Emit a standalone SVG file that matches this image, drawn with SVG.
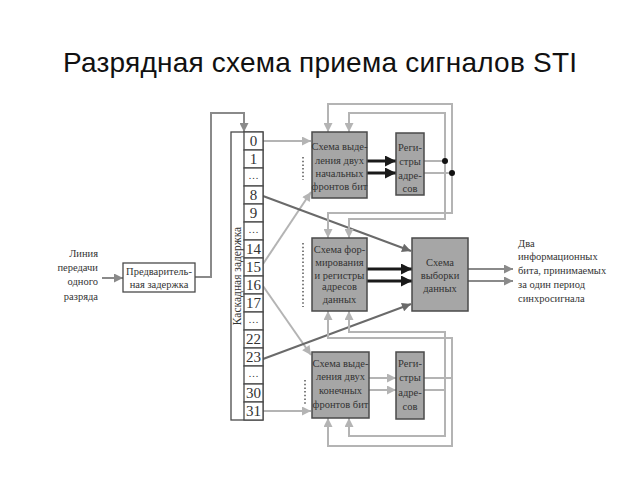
<svg xmlns="http://www.w3.org/2000/svg" width="640" height="480" viewBox="0 0 640 480">
<style>
.title{font-family:"Liberation Sans",Arial,sans-serif;font-size:28px;fill:#111;text-anchor:middle}
.t{font-family:"Liberation Serif","Times New Roman",serif;font-size:10.5px;fill:#333;text-anchor:middle}
.tl{font-family:"Liberation Serif","Times New Roman",serif;font-size:10.5px;fill:#333}
.tr{font-family:"Liberation Serif","Times New Roman",serif;font-size:10.5px;fill:#333;text-anchor:end}
.n{font-family:"Liberation Serif","Times New Roman",serif;font-size:15px;fill:#333;text-anchor:middle}
.box{fill:#a6a6a6;stroke:#4a4a4a;stroke-width:1.5}
.wbox{fill:#fff;stroke:#4a4a4a;stroke-width:1.3}
.lg{fill:none;stroke:#b4b4b4;stroke-width:2}
.md{fill:none;stroke:#8a8a8a;stroke-width:2}
.dk{fill:none;stroke:#6a6a6a;stroke-width:2}
.bk{fill:none;stroke:#1a1a1a;stroke-width:3}
.dot{fill:none;stroke:#555;stroke-width:1.5;stroke-dasharray:1.5 2.2}
</style>
<defs>
<marker id="ag" viewBox="0 0 10 10" refX="10" refY="5" markerWidth="11" markerHeight="9" markerUnits="userSpaceOnUse" orient="auto"><path d="M0,0L10,5L0,10z" fill="#b4b4b4"/></marker>
<marker id="am" viewBox="0 0 10 10" refX="10" refY="5" markerWidth="11" markerHeight="9" markerUnits="userSpaceOnUse" orient="auto"><path d="M0,0L10,5L0,10z" fill="#8a8a8a"/></marker>
<marker id="ad" viewBox="0 0 10 10" refX="10" refY="5" markerWidth="11" markerHeight="9" markerUnits="userSpaceOnUse" orient="auto"><path d="M0,0L10,5L0,10z" fill="#6a6a6a"/></marker>
<marker id="ab" viewBox="0 0 10 10" refX="10" refY="5" markerWidth="12" markerHeight="11" markerUnits="userSpaceOnUse" orient="auto"><path d="M0,0L10,5L0,10z" fill="#1a1a1a"/></marker>
</defs>
<rect width="640" height="480" fill="#fff"/>
<text class="title" x="320" y="72" textLength="514" lengthAdjust="spacing">Разрядная схема приема сигналов STI</text>

<g id="connectors">
  <line class="md" x1="102" y1="278" x2="123" y2="278" marker-end="url(#am)"/>
  <polyline class="md" points="195,277 211,277 211,113 244,113 244,132" marker-end="url(#am)"/>
  <line class="lg" x1="263" y1="141" x2="311" y2="141" marker-end="url(#ag)"/>
  <line class="lg" x1="263" y1="264" x2="311" y2="192" marker-end="url(#ag)"/>
  <line class="lg" x1="263" y1="286" x2="311" y2="355" marker-end="url(#ag)"/>
  <line class="lg" x1="263" y1="411" x2="311" y2="411" marker-end="url(#ag)"/>
  <line class="dk" x1="263" y1="196" x2="411" y2="251" marker-end="url(#ad)"/>
  <line class="dk" x1="263" y1="359" x2="411" y2="304" marker-end="url(#ad)"/>
  <line class="bk" x1="367" y1="161" x2="396" y2="161" marker-end="url(#ab)"/>
  <line class="bk" x1="367" y1="173" x2="396" y2="173" marker-end="url(#ab)"/>
  <line class="bk" x1="367" y1="269" x2="412" y2="269" marker-end="url(#ab)"/>
  <line class="bk" x1="367" y1="281" x2="412" y2="281" marker-end="url(#ab)"/>
  <line class="lg" x1="369" y1="378" x2="396" y2="378" marker-end="url(#ag)"/>
  <line class="lg" x1="369" y1="390" x2="396" y2="390" marker-end="url(#ag)"/>
  <line class="md" x1="468" y1="269" x2="513" y2="269" marker-end="url(#am)"/>
  <line class="md" x1="468" y1="281" x2="513" y2="281" marker-end="url(#am)"/>
  <line class="lg" x1="424" y1="161" x2="445" y2="161"/>
  <line class="lg" x1="424" y1="173" x2="452" y2="173"/>
  <polyline class="lg" points="452,213 452,104 328,104 328,132" marker-end="url(#ag)"/>
  <polyline class="lg" points="445,219 445,113 349,113 349,132" marker-end="url(#ag)"/>
  <polyline class="lg" points="452,173 452,213 328,213 328,238" marker-end="url(#ag)"/>
  <polyline class="lg" points="445,161 445,219 349,219 349,238" marker-end="url(#ag)"/>
  <circle cx="445" cy="161" r="3" fill="#111"/>
  <circle cx="452" cy="173" r="3" fill="#111"/>
  <line class="lg" x1="424" y1="378" x2="452" y2="378"/>
  <line class="lg" x1="424" y1="390" x2="445" y2="390"/>
  <polyline class="lg" points="452,446 452,338 328,338 328,311" marker-end="url(#ag)"/>
  <polyline class="lg" points="445,436 445,332 349,332 349,311" marker-end="url(#ag)"/>
  <polyline class="lg" points="452,378 452,446 328,446 328,418" marker-end="url(#ag)"/>
  <polyline class="lg" points="445,390 445,436 349,436 349,418" marker-end="url(#ag)"/>
  <line class="dot" x1="303" y1="157" x2="303" y2="180"/>
  <line class="dot" x1="303" y1="243" x2="303" y2="307"/>
  <line class="dot" x1="305" y1="380" x2="305" y2="404"/>
</g>

<g id="input-label">
  <text class="tr" x="98" y="257">Линия</text>
  <text class="tr" x="98" y="271">передачи</text>
  <text class="tr" x="98" y="285">одного</text>
  <text class="tr" x="98" y="300">разряда</text>
</g>

<g id="pre-delay">
  <rect class="wbox" x="123" y="263" width="72" height="29"/>
  <text class="t" x="159" y="275">Предваритель-</text>
  <text class="t" x="159" y="288">ная задержка</text>
</g>

<g id="cascade">
  <rect class="wbox" x="231" y="132" width="32" height="288"/>
  <text class="t" style="font-size:11.5px" transform="translate(241,276) rotate(-90)">Каскадная задержка</text>
  <g fill="#fff" stroke="#4a4a4a" stroke-width="1.3">
    <rect x="244" y="132" width="19" height="18"/><rect x="244" y="150" width="19" height="18"/>
    <rect x="244" y="168" width="19" height="18"/><rect x="244" y="186" width="19" height="18"/>
    <rect x="244" y="204" width="19" height="18"/><rect x="244" y="222" width="19" height="18"/>
    <rect x="244" y="240" width="19" height="18"/><rect x="244" y="258" width="19" height="18"/>
    <rect x="244" y="276" width="19" height="18"/><rect x="244" y="294" width="19" height="18"/>
    <rect x="244" y="312" width="19" height="18"/><rect x="244" y="330" width="19" height="18"/>
    <rect x="244" y="348" width="19" height="18"/><rect x="244" y="366" width="19" height="18"/>
    <rect x="244" y="384" width="19" height="18"/><rect x="244" y="402" width="19" height="18"/>
  </g>
  <text class="n" x="253.5" y="146">0</text>
  <text class="n" x="253.5" y="164">1</text>
  <text class="t" x="253.5" y="179">…</text>
  <text class="n" x="253.5" y="200">8</text>
  <text class="n" x="253.5" y="218">9</text>
  <text class="t" x="253.5" y="233">…</text>
  <text class="n" x="253.5" y="254">14</text>
  <text class="n" x="253.5" y="272">15</text>
  <text class="n" x="253.5" y="290">16</text>
  <text class="n" x="253.5" y="308">17</text>
  <text class="t" x="253.5" y="323">…</text>
  <text class="n" x="253.5" y="344">22</text>
  <text class="n" x="253.5" y="362">23</text>
  <text class="t" x="253.5" y="377">…</text>
  <text class="n" x="253.5" y="398">30</text>
  <text class="n" x="253.5" y="416">31</text>
</g>

<g id="start-fronts">
  <rect class="box" x="312" y="132" width="55" height="66"/>
  <text class="t" x="339.5" y="150">Схема выде-</text>
  <text class="t" x="339.5" y="164">ления двух</text>
  <text class="t" x="339.5" y="177">начальных</text>
  <text class="t" x="339.5" y="190">фронтов бит</text>
</g>

<g id="start-regs">
  <rect class="box" x="396" y="133" width="28" height="62"/>
  <text class="t" x="410" y="151">Реги-</text>
  <text class="t" x="410" y="165">стры</text>
  <text class="t" x="410" y="179">адре-</text>
  <text class="t" x="410" y="192">сов</text>
</g>

<g id="data-addr">
  <rect class="box" x="312" y="238" width="55" height="73"/>
  <text class="t" x="339.5" y="253">Схема фор-</text>
  <text class="t" x="339.5" y="266">мирования</text>
  <text class="t" x="339.5" y="279">и регистры</text>
  <text class="t" x="339.5" y="290">адресов</text>
  <text class="t" x="339.5" y="303">данных</text>
</g>

<g id="data-select">
  <rect class="box" x="412" y="238" width="56" height="73"/>
  <text class="t" x="440" y="266">Схема</text>
  <text class="t" x="440" y="279">выборки</text>
  <text class="t" x="440" y="292">данных</text>
</g>

<g id="output-label">
  <text class="tl" x="518" y="247">Два</text>
  <text class="tl" x="518" y="260">информационных</text>
  <text class="tl" x="518" y="274">бита, принимаемых</text>
  <text class="tl" x="518" y="288">за один период</text>
  <text class="tl" x="518" y="302">синхросигнала</text>
</g>

<g id="end-fronts">
  <rect class="box" x="312" y="352" width="57" height="66"/>
  <text class="t" x="340.5" y="367">Схема выде-</text>
  <text class="t" x="340.5" y="380">ления двух</text>
  <text class="t" x="340.5" y="394">конечных</text>
  <text class="t" x="340.5" y="408">фронтов бит</text>
</g>

<g id="end-regs">
  <rect class="box" x="396" y="352" width="28" height="67"/>
  <text class="t" x="410" y="367">Реги-</text>
  <text class="t" x="410" y="381">стры</text>
  <text class="t" x="410" y="396">адре-</text>
  <text class="t" x="410" y="410">сов</text>
</g>
</svg>
